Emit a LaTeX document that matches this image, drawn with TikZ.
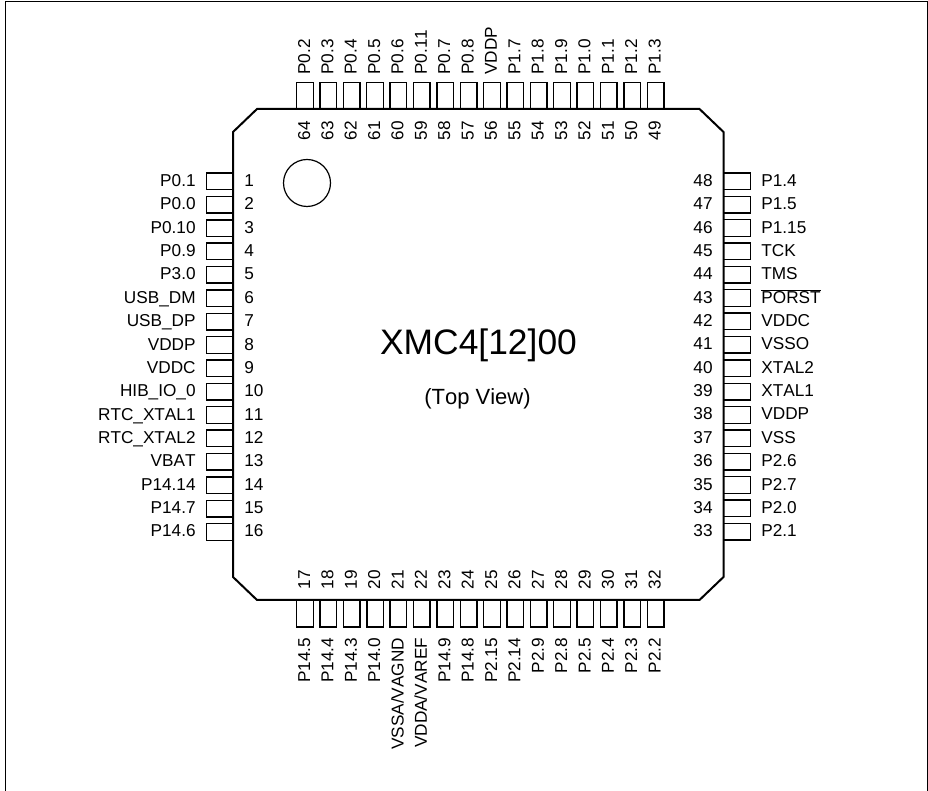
\documentclass[tikz,border=0pt]{standalone}
\usepackage{fontspec}
\setmainfont[Kerning=Off]{Liberation Sans}
\usetikzlibrary{positioning}

\begin{document}
\begin{tikzpicture}[x=1pt, y=1pt, node distance=23.37pt, label distance=0pt]
    \tikzset{
        pintext/.style = {inner sep=0pt, text height=12.3pt, text depth=2.2pt, font=\fontsize{17.2}{19}\selectfont},
        hbox/.style    = {rectangle, draw=black, line width=1.4pt, inner sep=0pt, minimum width=27pt, minimum height=16.6pt},
        vbox/.style    = {rectangle, draw=black, line width=1.4pt, inner sep=0pt, minimum width=16.6pt, minimum height=27pt},
        lpin/.style 2 args = {hbox, label={[pintext, xshift=10pt, name=n#1]right:#1}, label={[pintext, xshift=-10pt, name=t#1]left:#2}},
        rpin/.style 2 args = {hbox, label={[pintext, xshift=-10pt, name=n#1]left:#1}, label={[pintext, xshift=10pt, name=t#1]right:#2}},
        bpin/.style 2 args = {vbox, label={[pintext, rotate=90, xshift=10pt, anchor=west, name=n#1]above:#1}, label={[pintext, rotate=90, xshift=-10pt, anchor=east, name=t#1]below:#2}},
        tpin/.style 2 args = {vbox, label={[pintext, rotate=90, xshift=-11pt, anchor=east, name=n#1]below:#1}, label={[pintext, rotate=90, xshift=7pt, anchor=west, name=t#1]above:#2}}
    }

    \useasboundingbox (0,0) rectangle (928,791);

    % Frame
    \draw [line width=1pt] (5.5,-1) -- (5.5,789) -- (927,789) -- (927,-1);

    % Package
    \draw [line width=2pt, line join=miter] (233,659) -- (257,682) -- (699.5,682) -- (723.5,659) -- (723.5,214) -- (699.5,191) -- (257,191) -- (233,214) -- cycle;
    \node [circle, draw=black, line width=1.2pt, minimum size=47pt, inner sep=0pt] (dot) at (307,608) {};

    % Title
    \node [font=\fontsize{35.4}{40}\selectfont] (title) at (478.5,445.5) {XMC4[12]00};
    \node [font=\fontsize{22}{26}\selectfont, below=20pt of title, xshift=-1pt] (view) {(Top View)};

    % Left side
    \node [lpin={1}{P0.1}] (p1) at (220,609.6) {};
    \node [lpin={2}{P0.0}, below of=p1] (p2) {};
    \node [lpin={3}{P0.10}, below of=p2] (p3) {};
    \node [lpin={4}{P0.9}, below of=p3] (p4) {};
    \node [lpin={5}{P3.0}, below of=p4] (p5) {};
    \node [lpin={6}{USB\_DM}, below of=p5] (p6) {};
    \node [lpin={7}{USB\_DP}, below of=p6] (p7) {};
    \node [lpin={8}{VDDP}, below of=p7] (p8) {};
    \node [lpin={9}{VDDC}, below of=p8] (p9) {};
    \node [lpin={10}{HIB\_IO\_0}, below of=p9] (p10) {};
    \node [lpin={11}{RTC\_XTAL1}, below of=p10] (p11) {};
    \node [lpin={12}{RTC\_XTAL2}, below of=p11] (p12) {};
    \node [lpin={13}{VBAT}, below of=p12] (p13) {};
    \node [lpin={14}{P14.14}, below of=p13] (p14) {};
    \node [lpin={15}{P14.7}, below of=p14] (p15) {};
    \node [lpin={16}{P14.6}, below of=p15] (p16) {};

    % Bottom side
    \node [bpin={17}{P14.5}] (p17) at (305,177.5) {};
    \node [bpin={18}{P14.4}, right of=p17] (p18) {};
    \node [bpin={19}{P14.3}, right of=p18] (p19) {};
    \node [bpin={20}{P14.0}, right of=p19] (p20) {};
    \node [bpin={21}{VSSA/VAGND}, right of=p20] (p21) {};
    \node [bpin={22}{VDDA/VAREF}, right of=p21] (p22) {};
    \node [bpin={23}{P14.9}, right of=p22] (p23) {};
    \node [bpin={24}{P14.8}, right of=p23] (p24) {};
    \node [bpin={25}{P2.15}, right of=p24] (p25) {};
    \node [bpin={26}{P2.14}, right of=p25] (p26) {};
    \node [bpin={27}{P2.9}, right of=p26] (p27) {};
    \node [bpin={28}{P2.8}, right of=p27] (p28) {};
    \node [bpin={29}{P2.5}, right of=p28] (p29) {};
    \node [bpin={30}{P2.4}, right of=p29] (p30) {};
    \node [bpin={31}{P2.3}, right of=p30] (p31) {};
    \node [bpin={32}{P2.2}, right of=p31] (p32) {};

    % Right side
    \node [rpin={33}{P2.1}] (p33) at (737,259.2) {};
    \node [rpin={34}{P2.0}, above of=p33] (p34) {};
    \node [rpin={35}{P2.7}, above of=p34] (p35) {};
    \node [rpin={36}{P2.6}, above of=p35] (p36) {};
    \node [rpin={37}{VSS}, above of=p36] (p37) {};
    \node [rpin={38}{VDDP}, above of=p37] (p38) {};
    \node [rpin={39}{XTAL1}, above of=p38] (p39) {};
    \node [rpin={40}{XTAL2}, above of=p39] (p40) {};
    \node [rpin={41}{VSSO}, above of=p40] (p41) {};
    \node [rpin={42}{VDDC}, above of=p41] (p42) {};
    \node [rpin={43}{$\overline{\mbox{PORST}}$}, above of=p42] (p43) {};
    \node [rpin={44}{TMS}, above of=p43] (p44) {};
    \node [rpin={45}{TCK}, above of=p44] (p45) {};
    \node [rpin={46}{P1.15}, above of=p45] (p46) {};
    \node [rpin={47}{P1.5}, above of=p46] (p47) {};
    \node [rpin={48}{P1.4}, above of=p47] (p48) {};

    % Top side
    \node [tpin={49}{P1.3}] (p49) at (655.5,695) {};
    \node [tpin={50}{P1.2}, left of=p49] (p50) {};
    \node [tpin={51}{P1.1}, left of=p50] (p51) {};
    \node [tpin={52}{P1.0}, left of=p51] (p52) {};
    \node [tpin={53}{P1.9}, left of=p52] (p53) {};
    \node [tpin={54}{P1.8}, left of=p53] (p54) {};
    \node [tpin={55}{P1.7}, left of=p54] (p55) {};
    \node [tpin={56}{VDDP}, left of=p55] (p56) {};
    \node [tpin={57}{P0.8}, left of=p56] (p57) {};
    \node [tpin={58}{P0.7}, left of=p57] (p58) {};
    \node [tpin={59}{P0.11}, left of=p58] (p59) {};
    \node [tpin={60}{P0.6}, left of=p59] (p60) {};
    \node [tpin={61}{P0.5}, left of=p60] (p61) {};
    \node [tpin={62}{P0.4}, left of=p61] (p62) {};
    \node [tpin={63}{P0.3}, left of=p62] (p63) {};
    \node [tpin={64}{P0.2}, left of=p63] (p64) {};

\end{tikzpicture}
\end{document}
